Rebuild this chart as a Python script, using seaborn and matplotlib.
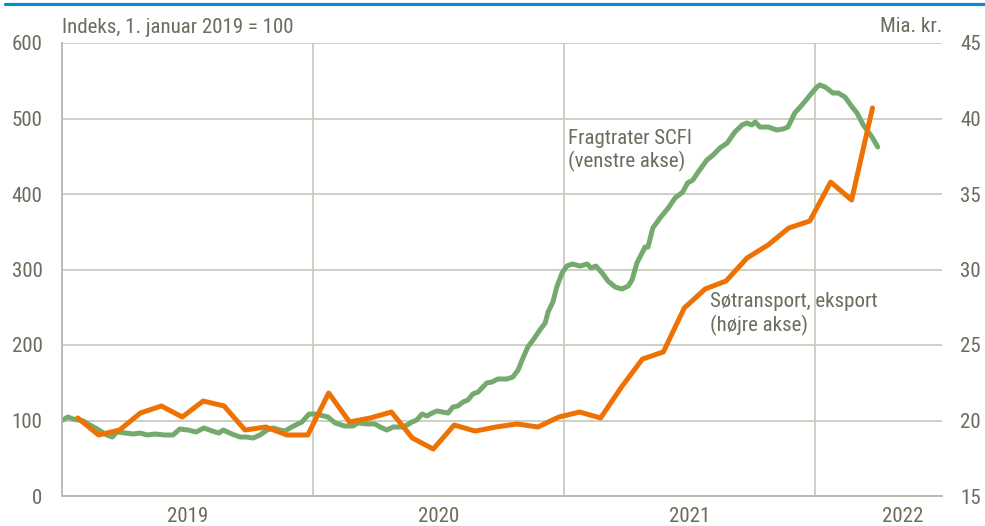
import os
import numpy as np
import pandas as pd
import matplotlib
matplotlib.use("Agg")
import matplotlib.pyplot as plt
from matplotlib.lines import Line2D
from matplotlib import font_manager as fm
import seaborn as sns

# ---------------- data ----------------
# SCFI freight rates, index (left axis); x = weeks since 1 Jan 2019
scfi_weeks = [0.0, 1.2, 2.3, 4.4, 5.8, 7.3, 9.3, 10.4, 11.4, 13.1, 14.7, 16.2, 17.6, 19.3, 21.3, 23.0,
              24.4, 26.1, 27.8, 29.4, 31.1, 32.5, 33.4, 35.2, 36.9, 38.3, 39.6, 41.0, 42.5, 43.7, 45.2,
              46.2, 47.6, 49.7, 51.2, 52.4, 53.4, 55.1, 56.6, 58.6, 60.3, 61.3, 63.4, 64.8, 65.9, 67.3,
              68.6, 70.4, 71.5, 72.5, 73.5, 74.6, 75.6, 76.7, 77.7, 80.0, 81.0, 82.0, 83.1, 84.1, 85.1,
              86.2, 88.0, 89.1, 90.3, 92.2, 93.4, 94.5, 95.5, 96.5, 97.6, 99.0, 100.1, 100.7, 101.7,
              102.5, 103.6, 104.6, 105.7, 107.3, 108.8, 109.6, 110.6, 111.9, 113.1, 114.6, 116.0, 117.3,
              118.1, 119.1, 120.8, 121.4, 122.4, 123.9, 125.6, 127.0, 128.6, 129.6, 130.7, 131.8, 133.6,
              134.9, 136.3, 137.8, 139.4, 140.9, 141.9, 142.9, 143.6, 144.6, 146.3, 148.1, 149.4, 150.4,
              151.8, 153.3, 155.0, 156.4, 157.0, 158.1, 159.7, 160.8, 162.2, 163.7, 164.7, 166.0, 167.8,
              169.0]
scfi_values = [100.0, 104.6, 102.0, 99.3, 94.0, 88.7, 80.8, 78.1, 84.8, 83.4, 82.1, 83.4, 80.8, 82.1, 80.8,
               80.8, 88.7, 87.4, 84.8, 90.1, 86.1, 83.4, 87.4, 82.1, 78.1, 78.1, 76.8, 80.8, 87.4, 90.1,
               87.4, 86.1, 91.4, 98.0, 108.6, 108.6, 107.3, 104.6, 96.7, 92.7, 92.7, 96.7, 95.4, 95.4,
               91.4, 87.4, 91.4, 91.4, 94.0, 98.0, 100.7, 108.6, 106.0, 109.9, 112.6, 109.9, 117.9, 119.2,
               124.5, 127.2, 135.1, 137.7, 149.7, 151.0, 155.0, 155.0, 157.6, 166.9, 182.8, 197.4, 206.6,
               219.9, 229.1, 243.7, 256.9, 276.8, 295.4, 304.6, 307.3, 304.6, 307.3, 302.0, 304.6, 295.4,
               284.8, 276.8, 274.2, 278.1, 286.1, 308.6, 329.8, 329.8, 355.0, 368.2, 381.5, 394.7, 402.6,
               414.6, 418.5, 429.1, 445.0, 451.7, 460.9, 467.5, 482.1, 491.4, 494.0, 491.4, 495.4, 488.7,
               488.7, 484.8, 486.1, 488.7, 507.3, 517.9, 531.1, 541.7, 544.4, 541.7, 533.8, 533.8, 528.5,
               515.2, 507.3, 491.4, 475.5, 462.3]

# Sea transport exports, bn kr. (right axis), monthly Jan 2019 - Mar 2022
export_months = pd.period_range("2019-01", "2022-03", freq="M")
export_values = [20.17, 19.04, 19.37, 20.50, 20.96, 20.23, 21.29, 20.96, 19.37, 19.57, 19.04, 19.04,
                 21.82, 19.90, 20.17, 20.56, 18.84, 18.11, 19.70, 19.30, 19.57, 19.77, 19.57, 20.23,
                 20.56, 20.17, 22.22, 24.07, 24.54, 27.45, 28.71, 29.24, 30.76, 31.62, 32.75, 33.21,
                 35.79, 34.60, 40.70]

year_labels = ["2019", "2020", "2021", "2022"]
left_ticks = [0, 100, 200, 300, 400, 500, 600]
right_ticks = [15, 20, 25, 30, 35, 40, 45]

# ---------------- style ----------------
sns.set_style("white")

FS = 15
font_path = None
for pat in ["LiberationSansNarrow-Regular", "ArialNarrow", "Arial Narrow", "RobotoCondensed-Regular",
            "Roboto_Condensed-Regular", "OpenSans_Condensed-Regular", "OpenSansCondensed",
            "DejaVuSansCondensed.ttf"]:
    for f in fm.fontManager.ttflist:
        if pat.lower() in os.path.basename(f.fname).lower():
            font_path = f.fname
            break
    if font_path:
        break
if font_path is None:
    for f in fm.findSystemFonts():
        b = os.path.basename(f).lower()
        if ("narrow" in b or "condensed" in b) and "bold" not in b and "italic" not in b \
                and "oblique" not in b and "light" not in b:
            font_path = f
            break

if font_path:
    FP = fm.FontProperties(fname=font_path, size=FS)
else:
    plt.rcParams["font.family"] = ["Liberation Sans", "DejaVu Sans"]
    FS = 13.5
    FP = fm.FontProperties(family=["Liberation Sans", "DejaVu Sans"], size=FS)

TEXT = "#6b6b5e"
GRID = "#cbcbc1"
SPINE = "#b8b8ad"
GREEN = "#74aa6d"
ORANGE = "#ee7203"
BLUE = "#0a8ad0"

scfi_df = pd.DataFrame({"t": 2019 + np.array(scfi_weeks) / 52.0, "v": scfi_values})
exp_df = pd.DataFrame({
    "t": [p.year + (p.month - 1 + 0.75) / 12 for p in export_months],
    "v": export_values,
})

fig = plt.figure(figsize=(9.85, 5.26), dpi=100)
ax = fig.add_axes([62 / 985, 1 - 496 / 526, (942 - 62) / 985, (496 - 43) / 526])
ax2 = ax.twinx()

sns.lineplot(data=scfi_df, x="t", y="v", ax=ax, color=GREEN, lw=3.6,
             estimator=None, sort=False, solid_joinstyle="round")
sns.lineplot(data=exp_df, x="t", y="v", ax=ax2, color=ORANGE, lw=3.6,
             estimator=None, sort=False, solid_joinstyle="round")

xmax = 2019 + (942 - 62) / 251
ax.set_xlim(2019, xmax)
ax.set_ylim(0, 600)
ax2.set_ylim(15, 45)

ax.set_yticks(left_ticks)
ax2.set_yticks(right_ticks)
ax.set_xticks([2020, 2021, 2022])
ax.set_xticklabels([])
ax.set_xticks([2019.5, 2020.5, 2021.5, 2022.35], minor=True)
ax.set_xticklabels(year_labels, minor=True)

ax.grid(axis="both", which="major", color=GRID, lw=1.3)
ax.set_axisbelow(True)
ax.tick_params(axis="y", which="both", length=0, pad=14, labelcolor=TEXT)
ax.tick_params(axis="x", which="both", length=0, pad=8, labelcolor=TEXT)
ax2.tick_params(axis="y", length=0, pad=13, labelcolor=TEXT)

for lab in ax.get_yticklabels() + ax2.get_yticklabels() + ax.get_xticklabels(minor=True):
    lab.set_fontproperties(FP)

for s in ["top", "right"]:
    ax.spines[s].set_visible(False)
for s in ["left", "bottom"]:
    ax.spines[s].set_color(SPINE)
    ax.spines[s].set_linewidth(1.3)
for s in ax2.spines.values():
    s.set_visible(False)

ax.set_xlabel("")
ax.set_ylabel("")
ax2.set_xlabel("")
ax2.set_ylabel("")

ax.text(2019 + (568 - 62) / 251, 486, "Fragtrater SCFI\n(venstre akse)", color=TEXT,
        fontproperties=FP, ha="left", va="top", linespacing=1.2)
ax.text(2019 + (710 - 62) / 251, 270, "Søtransport, eksport\n(højre akse)", color=TEXT,
        fontproperties=FP, ha="left", va="top", linespacing=1.2)

fig.text(62 / 985, 1 - 33 / 526, "Indeks, 1. januar 2019 = 100", color=TEXT, fontproperties=FP,
         ha="left", va="baseline")
fig.text(942 / 985, 1 - 32 / 526, "Mia. kr.", color=TEXT, fontproperties=FP, ha="right", va="baseline")

fig.add_artist(Line2D([5 / 985, 1.0], [1 - 3.5 / 526, 1 - 3.5 / 526], color=BLUE, lw=2.3,
                      transform=fig.transFigure))

fig.savefig("out.png", dpi=100)
